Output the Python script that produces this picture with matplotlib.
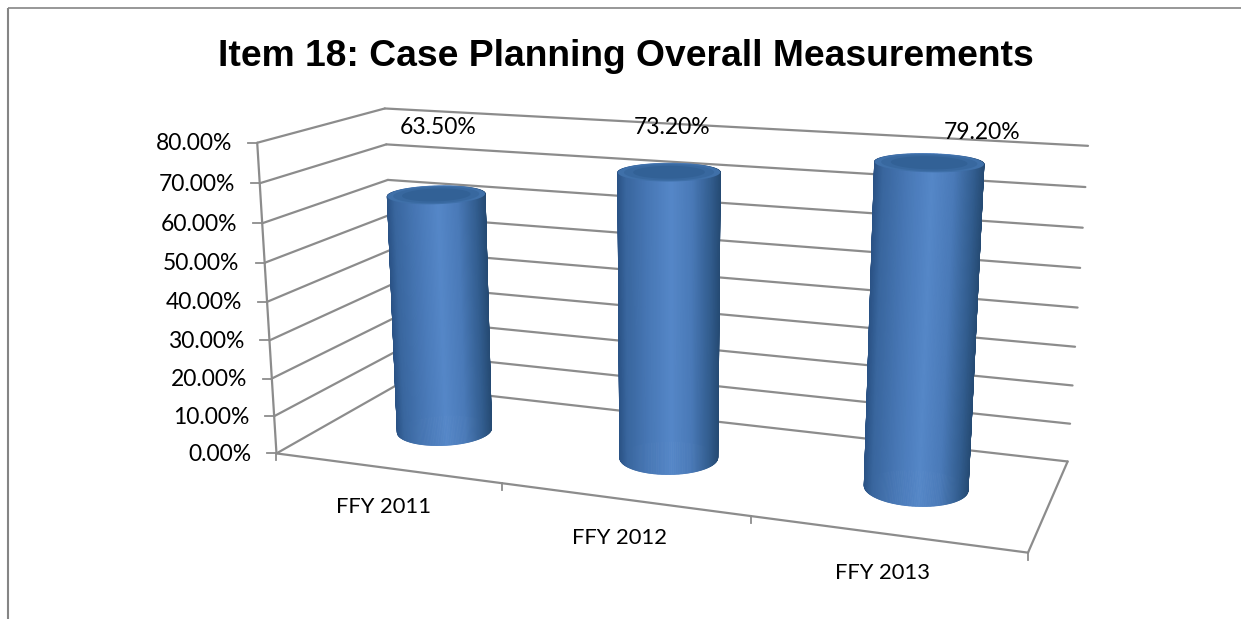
import numpy as np
import matplotlib
matplotlib.use("Agg")
import matplotlib.pyplot as plt
from matplotlib.collections import PolyCollection

title = "Item 18: Case Planning Overall Measurements"
categories = ["FFY 2011", "FFY 2012", "FFY 2013"]
values = [63.5, 73.2, 79.2]
value_labels = ["63.50%", "73.20%", "79.20%"]
axis_ticks = [0, 10, 20, 30, 40, 50, 60, 70, 80]
axis_labels = ["0.00%", "10.00%", "20.00%", "30.00%", "40.00%", "50.00%", "60.00%", "70.00%", "80.00%"]

GRID = "#8c8c8c"
W, H = 1241, 619
V_MAX = 80.0

# 3d box corners (category, depth, value) and where they land on the canvas
box_world = [(0, 0, 0), (1, 0, 0), (2, 0, 0), (3, 0, 0), (3, 1, 0), (0, 1, 0), (0, 0, 80), (0, 1, 80), (3, 1, 80)]
box_pixel = [(277, 453), (502, 483), (750, 519), (1028, 551), (1068, 461), (396, 385), (257, 142), (385, 109), (1088, 146)]


def fit_camera(world, pixel):
    rows = []
    for (x, z, v), (u, w) in zip(world, pixel):
        p = [x, z, v / V_MAX, 1]
        rows.append(p + [0, 0, 0, 0] + [-u * c for c in p])
        rows.append([0, 0, 0, 0] + p + [-w * c for c in p])
    return np.linalg.svd(np.array(rows, dtype=float))[2][-1].reshape(3, 4)


CAM = fit_camera(box_world, box_pixel)


def project(x, z, v):
    x, z, v = np.broadcast_arrays(x, z, v)
    pts = np.stack([x, z, v / V_MAX, np.ones_like(x, dtype=float)])
    q = CAM @ pts
    return q[0] / q[2], q[1] / q[2]


def seg(ax, a, b, lw=1.6, z=1):
    ua, wa = project(*a)
    ub, wb = project(*b)
    ax.plot([ua, ub], [wa, wb], color=GRID, lw=lw, zorder=z, solid_capstyle="round")


fig = plt.figure(figsize=(W / 100, H / 100), dpi=100, facecolor="white")
ax = fig.add_axes([0, 0, 1, 1])
ax.set_xlim(0, W)
ax.set_ylim(H, 0)
ax.axis("off")

# chart border, only top and left show
ax.plot([8, 8], [H, 7.5], color="#858585", lw=1.5, solid_capstyle="butt")
ax.plot([8, W], [7.5, 7.5], color="#858585", lw=1.2, solid_capstyle="butt")

ax.text(626, 56, title, ha="center", va="center", fontsize=26.8, fontweight="bold",
        family="Liberation Sans", color="black")

# walls and gridlines
for v, lab in zip(axis_ticks, axis_labels):
    seg(ax, (0, 0, v), (0, 1, v))
    seg(ax, (0, 1, v), (3, 1, v))
    u, w = project(0, 0, v)
    ax.plot([u - 9, u], [w, w], color=GRID, lw=1.3, zorder=1)
    ax.text(u - 26 + 1, w + 1, lab, ha="right", va="center", fontsize=16.5, family="Lato", color="black")

seg(ax, (0, 0, 0), (0, 0, 80))
seg(ax, (0, 0, 0), (3, 0, 0))
seg(ax, (3, 0, 0), (3, 1, 0))

for i in range(4):
    u, w = project(i, 0, 0)
    ax.plot([u, u], [w, w + 7], color=GRID, lw=1.3, zorder=1)

# cylinders, strips around the side shaded by where they sit on screen
shade_t = [0.0, 0.08, 0.3, 0.52, 0.72, 0.9, 1.0]
shade_r = [0x2a, 0x39, 0x48, 0x55, 0x4a, 0x33, 0x25]
shade_g = [0x52, 0x66, 0x78, 0x87, 0x7a, 0x5e, 0x4a]
shade_b = [0x85, 0x9e, 0xb6, 0xc8, 0xb8, 0x90, 0x73]
R_X, R_Z = 0.195, 0.2

theta = np.linspace(0, 2 * np.pi, 241)
label_offsets = [(2, -67), (3, -45), (53, -30)]

for i, val in enumerate(values):
    cx, cz = i + 0.5, 0.5
    xs = cx + R_X * np.cos(theta)
    zs = cz + R_Z * np.sin(theta)
    ub, wb = project(xs, zs, 0.0)
    ut, wt = project(xs, zs, val)
    left, right = ub.min(), ub.max()
    polys, cols, depth = [], [], []
    for k in range(len(theta) - 1):
        polys.append([(ub[k], wb[k]), (ub[k + 1], wb[k + 1]), (ut[k + 1], wt[k + 1]), (ut[k], wt[k])])
        t = (ub[k] + ub[k + 1]) / 2
        t = (t - left) / (right - left)
        cols.append((np.interp(t, shade_t, shade_r) / 255, np.interp(t, shade_t, shade_g) / 255,
                     np.interp(t, shade_t, shade_b) / 255))
        depth.append(zs[k])
    order = np.argsort(depth)[::-1]
    pc = PolyCollection([polys[j] for j in order], facecolors=[cols[j] for j in order],
                        edgecolors=[cols[j] for j in order], linewidths=0.6, zorder=3)
    pc.set_snap(False)
    ax.add_collection(pc)
    for scale, col in [(1.0, "#3f70a9"), (0.88, "#38689f"), (0.7, "#326196")]:
        eu, ew = project(cx + scale * R_X * np.cos(theta), cz + scale * R_Z * np.sin(theta), val)
        ax.fill(eu, ew, color=col, lw=0, zorder=4)
    u, w = project(cx, cz, val)
    ax.text(u + label_offsets[i][0], w + label_offsets[i][1], value_labels[i], ha="center", va="center",
            fontsize=16.5, family="Lato", color="black", zorder=5)

    u, w = project(cx, 0, 0)
    ax.text(u - 3, w + 39, categories[i], ha="center", va="center", fontsize=15.8, family="Lato", color="black")

fig.savefig("out.png", dpi=100, facecolor="white")
